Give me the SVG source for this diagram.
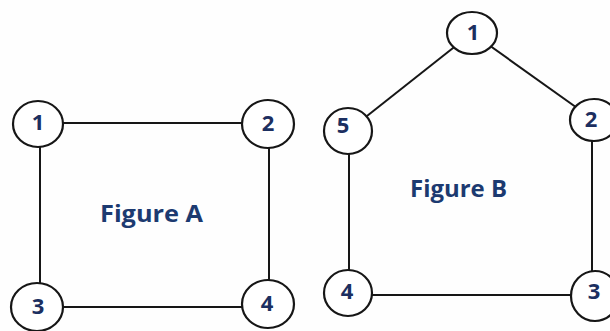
<svg xmlns="http://www.w3.org/2000/svg" width="610" height="331" viewBox="0 0 610 331">
<style>
.edge{stroke:#161616;stroke-width:2;fill:none}
.node{fill:#ffffff;stroke:#161616;stroke-width:2.2}
.num{font-family:"Open Sans","Liberation Sans",sans-serif;font-weight:700;font-size:22px;fill:#1c2f60;text-anchor:middle}
.title{font-family:"Open Sans","Liberation Sans",sans-serif;font-weight:700;font-size:24px;fill:#1c3a70}
</style>
<rect width="610" height="331" fill="#fefefe"/>
<g id="connectors">
<line class="edge" x1="38" y1="123" x2="268" y2="123"/>
<line class="edge" x1="40" y1="124" x2="40" y2="307"/>
<line class="edge" x1="269" y1="124" x2="269" y2="304"/>
<line class="edge" x1="37" y1="307" x2="268" y2="307"/>
<line class="edge" x1="472" y1="33" x2="348" y2="131"/>
<line class="edge" x1="472" y1="33" x2="594" y2="120"/>
<line class="edge" x1="349" y1="131" x2="349" y2="293"/>
<line class="edge" x1="592" y1="120" x2="592" y2="296"/>
<line class="edge" x1="348" y1="295" x2="594" y2="295"/>
</g>
<g id="figA-1"><ellipse class="node" cx="38" cy="124" rx="25" ry="23"/><text class="num" x="38" y="130">1</text></g>
<g id="figA-2"><ellipse class="node" cx="268" cy="124" rx="26" ry="24"/><text class="num" x="268" y="131">2</text></g>
<g id="figA-3"><ellipse class="node" cx="37" cy="307" rx="26" ry="24"/><text class="num" x="38" y="314">3</text></g>
<g id="figA-4"><ellipse class="node" cx="268" cy="304" rx="26" ry="24"/><text class="num" x="267" y="311">4</text></g>
<text class="title" x="100" y="222" textLength="103" lengthAdjust="spacingAndGlyphs">Figure A</text>
<g id="figB-1"><ellipse class="node" cx="472" cy="33" rx="25" ry="21"/><text class="num" x="473" y="40">1</text></g>
<g id="figB-2"><ellipse class="node" cx="594" cy="120" rx="24" ry="21"/><text class="num" x="591" y="127">2</text></g>
<g id="figB-3"><ellipse class="node" cx="595" cy="296" rx="24" ry="25"/><text class="num" x="594" y="299">3</text></g>
<g id="figB-4"><ellipse class="node" cx="348" cy="293" rx="24" ry="23"/><text class="num" x="347" y="299">4</text></g>
<g id="figB-5"><ellipse class="node" cx="348" cy="131" rx="24" ry="23"/><text class="num" x="343" y="133">5</text></g>
<text class="title" x="410" y="197" textLength="97" lengthAdjust="spacingAndGlyphs">Figure B</text>
</svg>
